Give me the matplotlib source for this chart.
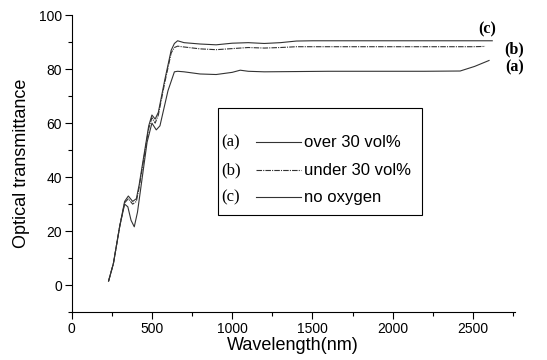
import matplotlib
matplotlib.use('Agg')
import matplotlib.pyplot as plt
from matplotlib.lines import Line2D
from matplotlib.patches import Rectangle
from matplotlib.ticker import MultipleLocator

plt.rcParams['font.family'] = ['Liberation Sans', 'DejaVu Sans']

# curve (a): over 30 vol%
wl_a = [230, 260, 300, 330, 350, 370, 390, 410, 440, 470, 500, 527, 550, 600, 640, 660,
        700, 800, 900, 1000, 1050, 1100, 1200, 1400, 1600, 1800, 2000, 2200, 2420, 2510, 2600]
tr_a = [1.5, 8, 22, 30, 29, 24, 21.6, 27, 40, 53, 60, 57.5, 59, 72, 79, 79.2,
        79, 78.2, 78, 78.8, 79.6, 79.2, 79, 79.1, 79.2, 79.2, 79.2, 79.2, 79.3, 81, 83.2]

# curve (b): under 30 vol%
wl_b = [230, 260, 300, 330, 353, 380, 403, 420, 450, 480, 500, 520, 540, 580, 620, 640,
        660, 700, 800, 900, 1000, 1100, 1200, 1300, 1400, 1500, 2000, 2500, 2575]
tr_b = [1.5, 8, 22, 30.5, 32, 30, 31, 36, 47, 58, 62, 60, 63, 75, 86, 88,
        88.5, 88.2, 87.5, 87.2, 87.6, 88, 87.8, 88, 88.3, 88.3, 88.3, 88.3, 88.4]

# curve (c): no oxygen
wl_c = [230, 260, 300, 330, 353, 380, 403, 420, 450, 480, 500, 520, 540, 580, 620, 640,
        660, 700, 800, 900, 1000, 1100, 1200, 1300, 1400, 1500, 2000, 2500, 2620]
tr_c = [1.5, 8, 22, 31, 33, 31, 32, 37, 48, 59, 63, 61.5, 64, 76, 87, 89.5,
        90.5, 89.8, 89.3, 89, 89.6, 89.8, 89.5, 89.8, 90.4, 90.5, 90.5, 90.5, 90.5]

series_tags = ['(a)', '(b)', '(c)']
series_names = ['over 30 vol%', 'under 30 vol%', 'no oxygen']

fig = plt.figure(figsize=(5.47, 3.6), dpi=100)
ax = fig.add_axes([0.131, 0.133, 0.810, 0.825])

col = '#333333'
ax.plot(wl_a, tr_a, color=col, lw=0.8)
ax.plot(wl_b, tr_b, color=col, lw=0.8, ls=(0, (5, 1, 1, 1)))
ax.plot(wl_c, tr_c, color=col, lw=0.8)

ax.set_xlim(0, 2760)
ax.set_ylim(-10, 100)
ax.xaxis.set_major_locator(MultipleLocator(500))
ax.xaxis.set_minor_locator(MultipleLocator(250))
ax.yaxis.set_major_locator(MultipleLocator(20))
ax.yaxis.set_minor_locator(MultipleLocator(10))
ax.set_yticks([0, 20, 40, 60, 80, 100])
ax.tick_params(which='major', direction='out', length=5, width=0.8, labelsize=10, pad=2)
ax.tick_params(which='minor', direction='out', length=3, width=0.8)
ax.spines['top'].set_visible(False)
ax.spines['right'].set_visible(False)

ax.set_xlabel('Wavelength(nm)', fontsize=13, labelpad=1)
ax.set_ylabel('Optical transmittance', fontsize=13, labelpad=6)

# end labels
serif = ['Liberation Serif', 'DejaVu Serif']
ax.text(2590, 94.6, '(c)', family=serif, fontweight='bold', fontsize=11.5, ha='center', va='center', clip_on=False)
ax.text(2757, 87.2, '(b)', family=serif, fontweight='bold', fontsize=11.5, ha='center', va='center', clip_on=False)
ax.text(2757, 80.8, '(a)', family=serif, fontweight='bold', fontsize=11.5, ha='center', va='center', clip_on=False)

# legend box
box = Rectangle((0.330, 0.327), 0.461, 0.360, transform=ax.transAxes, fill=False, lw=0.8, color='black')
ax.add_patch(box)
rows = [0.572, 0.478, 0.387]
styles = ['-', (0, (5, 1, 1, 1)), '-']
for y, tag, name, st in zip(rows, series_tags, series_names, styles):
    ax.text(0.338, y, tag, transform=ax.transAxes, family=serif, fontsize=12, va='center')
    ax.add_line(Line2D([0.415, 0.517], [y, y], transform=ax.transAxes, color=col, lw=0.8, ls=st))
    ax.text(0.524, y, name, transform=ax.transAxes, fontsize=12, va='center')

fig.savefig('out.png', dpi=100)
